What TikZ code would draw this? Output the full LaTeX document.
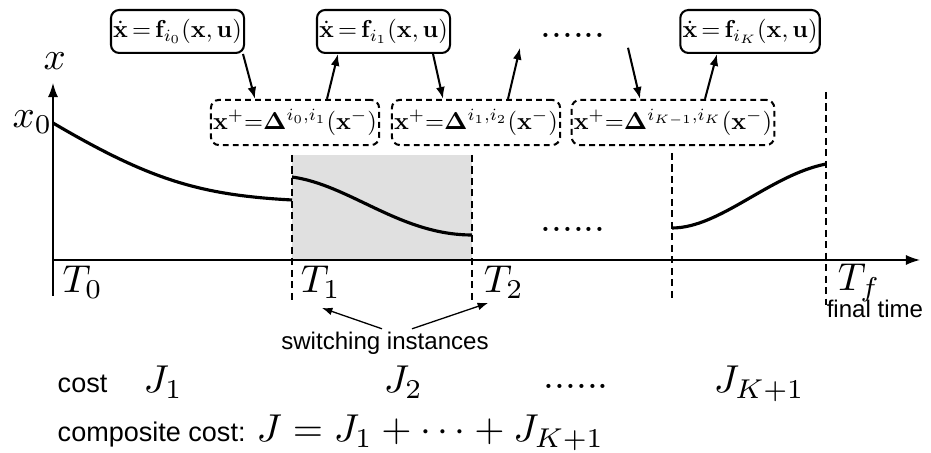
\RequirePackage{fix-cm}
\documentclass[tikz,border=0pt]{standalone}
\usepackage{amsmath}
\usepackage[no-math]{fontspec}
\setsansfont{Liberation Sans}
\usetikzlibrary{arrows.meta,calc}
\newcommand{\boxeq}[1]{\scalebox{0.66}{$#1$}}
\tikzstyle{modebox}=[draw=black,rounded corners=2.2pt,line width=0.55pt,inner sep=0.6pt,minimum height=11.6pt]
\tikzstyle{jumpbox}=[modebox,dash pattern=on 1.6pt off 1.1pt,minimum height=12.2pt]
\tikzstyle{lab}=[inner sep=0pt,font=\fontsize{10.5}{12}\selectfont]
\tikzstyle{txt}=[inner sep=0pt,font=\sffamily\fontsize{7.3}{8.5}\selectfont]
\tikzstyle{note}=[inner sep=0pt,font=\sffamily\fontsize{6.5}{7.5}\selectfont]
\tikzstyle{arr}=[-{Latex[length=3.2pt,width=2.4pt]},line width=0.55pt]
\tikzstyle{thinarr}=[-{Latex[length=2.8pt,width=2.1pt]},line width=0.35pt]
\tikzstyle{swline}=[dash pattern=on 1.9pt off 1.2pt,line width=0.3pt]
\tikzstyle{traj}=[line width=0.85pt]
\begin{document}
\begin{tikzpicture}[x=0.27pt,y=-0.27pt]
\useasboundingbox (0,0) rectangle (931,453);
\fill[black!12] (292,155) rectangle (472,260);
\draw[swline] (292,155) -- (292,302);
\draw[swline] (472,155) -- (472,302);
\draw[swline] (672,153) -- (672,300);
\draw[swline] (826,92) -- (826,305);
\coordinate (o) at (53,260);
\coordinate (ytop) at (53,83);
\coordinate (ybot) at (53,296);
\coordinate (xend) at (920,260);
\draw[line width=0.4pt,-{Latex[length=3.8pt,width=2.7pt]}] (ybot) -- (ytop);
\draw[line width=0.4pt,-{Latex[length=3.8pt,width=2.7pt]}] (o) -- (xend);
\draw[traj] (53,123) .. controls (150,180) and (200,195) .. (292,200);
\draw[traj] (292,177) .. controls (350,185) and (400,235) .. (472,235);
\draw[traj] (672,228) .. controls (720,228) and (770,175) .. (826,164);
\node[lab,anchor=base west] (xl) at (43,70) {$x$};
\node[lab,anchor=base west] (x0) at (12,128) {$x_0$};
\node[lab,anchor=base west] (t0) at (62,293) {$T_0$};
\node[lab,anchor=base west] (t1) at (300,293) {$T_1$};
\node[lab,anchor=base west] (t2) at (483,293) {$T_2$};
\node[lab,anchor=base west] (tf) at (837,291) {$T_f$};
\node[note,anchor=base west] (ft) at (826,318) {final time};
\node[lab] (middots) at (573,229) {......};
\node[modebox] (f0) at (177.5,31.5) {\boxeq{\dot{\mathbf{x}}\,{=}\,\mathbf{f}_{i_0}(\mathbf{x},\mathbf{u})}};
\node[modebox] (f1) at (383.5,31.5) {\boxeq{\dot{\mathbf{x}}\,{=}\,\mathbf{f}_{i_1}(\mathbf{x},\mathbf{u})}};
\node[lab] (topdots) at (573,35) {......};
\node[modebox] (fK) at (750,31.5) {\boxeq{\dot{\mathbf{x}}\,{=}\,\mathbf{f}_{i_K}(\mathbf{x},\mathbf{u})}};
\node[jumpbox] (d01) at (295,122.5) {\boxeq{\mathbf{x}^{+}{=}\mathbf{\Delta}^{i_0,i_1}(\mathbf{x}^{-})}};
\node[jumpbox] (d12) at (476,122.5) {\boxeq{\mathbf{x}^{+}{=}\mathbf{\Delta}^{i_1,i_2}(\mathbf{x}^{-})}};
\node[jumpbox] (dK) at (673,122.5) {\boxeq{\mathbf{x}^{+}{=}\mathbf{\Delta}^{i_{K-1},i_K}(\mathbf{x}^{-})}};
\draw[arr] ($(f0.south)+(65.5,0)$) -- ($(d01.north)+(-40,0)$);
\draw[arr] ($(d01.north)+(32,0)$) -- ($(f1.south)+(-45.5,0)$);
\draw[arr] ($(f1.south)+(49.5,0)$) -- ($(d12.north)+(-33,0)$);
\draw[arr] ($(d12.north)+(32,0)$) -- ($(topdots.south)+(-53,10)$);
\draw[arr] ($(topdots.south)+(55,10)$) -- ($(dK.north)+(-33,0)$);
\draw[arr] ($(dK.north)+(32,0)$) -- ($(fK.south)+(-33,0)$);
\node[note,anchor=base] (sw) at (385,350) {switching instances};
\coordinate (s1) at (322,308);
\coordinate (s2) at (488,303);
\draw[thinarr] ($(sw.north)+(-3,-3)$) -- (s1);
\draw[thinarr] ($(sw.north)+(27,-3)$) -- (s2);
\node[txt,anchor=base west] (cost) at (57,393) {cost};
\node[lab,anchor=base west] (j1) at (143,393) {$J_1$};
\node[lab,anchor=base west] (j2) at (383,393) {$J_2$};
\node[lab,anchor=base west] (botdots) at (543,389) {......};
\node[lab,anchor=base west] (jk) at (713,393) {$J_{K+1}$};
\node[txt,anchor=base west] (comp) at (57,442) {composite cost:};
\node[lab,anchor=base west] (jsum) at (256,442) {$J = J_1 + \cdots + J_{K+1}$};
\end{tikzpicture}
\end{document}
